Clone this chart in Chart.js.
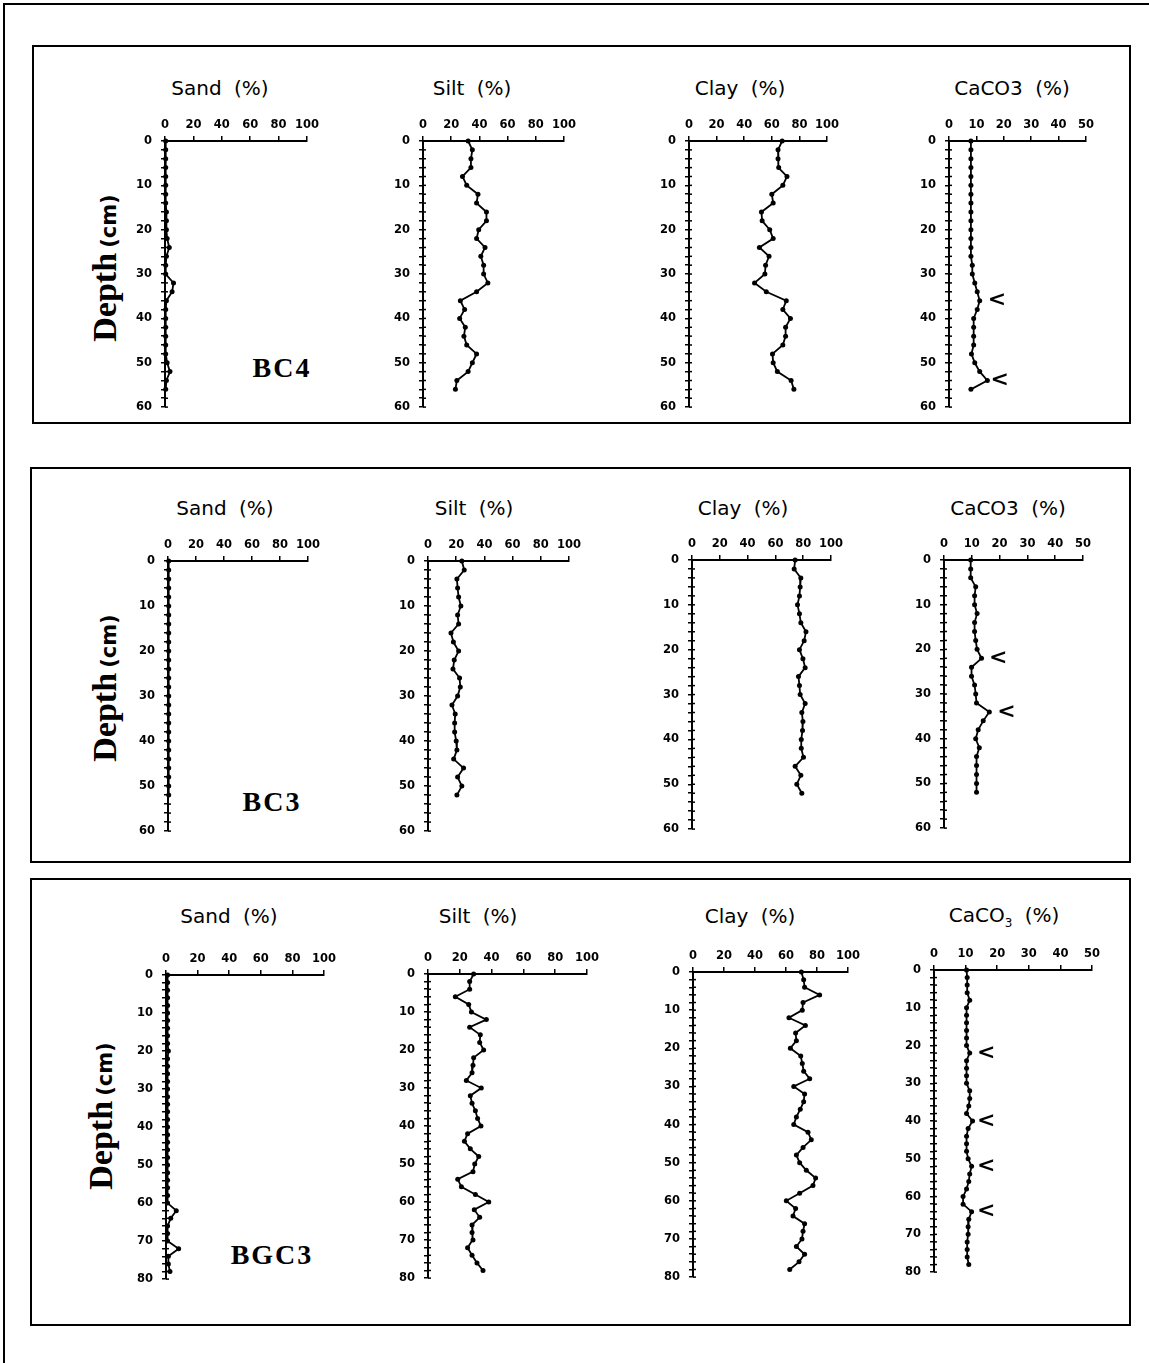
<!DOCTYPE html>
<html lang="en">
<head>
  <meta charset="UTF-8">
  <title>Sand, silt, clay and CaCO3 depth profiles</title>
  <script src="https://cdn.jsdelivr.net/npm/chart.js"></script>
  <style>
    body {
      margin: 0;
      width: 1149px;
      height: 1363px;
      position: relative;
      overflow: hidden;
      background: #fff;
      font-family: "DejaVu Sans", sans-serif;
      color: #000;
    }
    .frame { position: absolute; border: 2px solid #000; box-sizing: border-box; }
    .ttl { position: absolute; font-size: 20px; transform: translate(-50%, -50%); white-space: nowrap; word-spacing: 6px; }
    .depth { position: absolute; transform: translate(-50%, -50%) rotate(-90deg); white-space: nowrap; }
    .depth .d { font-family: "Liberation Serif", serif; font-weight: bold; font-size: 34px; }
    .depth .u { font-weight: bold; font-size: 21px; }
    .core { position: absolute; font-family: "Liberation Serif", serif; font-weight: bold; font-size: 28px; letter-spacing: 2px; transform: translate(-50%, -50%); }
    canvas { position: absolute; }
  </style>
</head>
<body>

<script>
  // depth of each sample (cm)
  var depthBC4 = [0, 2, 4, 6, 8, 10, 12, 14, 16, 18, 20, 22, 24, 26, 28, 30, 32, 34, 36, 38, 40, 42, 44, 46, 48, 50, 52, 54, 56];
  var depthBC3 = [0, 2, 4, 6, 8, 10, 12, 14, 16, 18, 20, 22, 24, 26, 28, 30, 32, 34, 36, 38, 40, 42, 44, 46, 48, 50, 52];
  var depthBGC3 = [0, 2, 4, 6, 8, 10, 12, 14, 16, 18, 20, 22, 24, 26, 28, 30, 32, 34, 36, 38, 40, 42, 44, 46, 48, 50, 52, 54, 56, 58, 60, 62, 64, 66, 68, 70, 72, 74, 76, 78];

  // core BC4
  var sandBC4 = [0.5, 0.5, 0.5, 0.5, 0.5, 0.5, 0.5, 0.5, 1, 1, 1, 1.5, 3, 1, 0.5, 0.5, 6, 5, 1, 0.5, 0.5, 0.5, 0.5, 0.5, 0.5, 1.5, 3.5, 1, 0.5];
  var siltBC4 = [32, 35, 34, 34, 28, 31, 39, 38, 45, 45, 39.5, 38, 44, 41, 43, 43, 46, 38, 26.5, 29.5, 26, 30, 29, 31, 38, 35, 32, 24, 23];
  var clayBC4 = [67.5, 64.5, 64.5, 65, 71, 68, 60, 61, 52.5, 53, 58.5, 61, 51, 58, 55.5, 55, 47.5, 56, 70.5, 68, 73.5, 70, 70, 68, 60.5, 61, 64, 74, 76];
  var caco3BC4 = [8, 8, 8, 8, 8, 8, 8, 8, 8, 8, 8, 8, 8, 8, 8.5, 8.5, 9.4, 10.3, 11.2, 10.3, 9, 9, 9, 9, 8.2, 9.4, 11.2, 14, 8];
  var arrowDepthBC4 = [36, 54];
  var arrowValueBC4 = [17.5, 18.5];

  // core BC3
  var sandBC3 = [0.5, 0.5, 0.5, 0.5, 0.5, 0.5, 0.5, 0.5, 0.5, 0.5, 0.5, 0.5, 0.5, 0.5, 0.5, 0.5, 0.5, 0.5, 0.5, 0.5, 0.5, 0.5, 0.5, 0.5, 0.5, 0.5, 0.5];
  var siltBC3 = [24, 25.7, 20.5, 21, 21.7, 23.3, 21, 21.7, 16.3, 18, 21.7, 18.6, 17.7, 22.4, 22.9, 21, 17, 19.3, 18.9, 18.9, 20, 20.5, 18.2, 25.2, 21, 24, 20.5];
  var clayBC3 = [74.2, 73.5, 78.3, 77.8, 77.3, 75.9, 77.3, 78.3, 82, 80.7, 77.3, 79.8, 81.4, 76.6, 77.3, 77.8, 81.4, 79, 79.8, 79.5, 78.6, 78.6, 80.2, 74.2, 78.3, 75.4, 79];
  var caco3BC3 = [9.6, 9.6, 9.6, 11.4, 11, 11, 11.9, 11, 11, 11.4, 11.9, 13.5, 9.9, 9.9, 11, 11.4, 11.7, 16.3, 14.1, 12.3, 11.4, 12.7, 11.7, 11.7, 11.7, 11.7, 11.7];
  var arrowDepthBC3 = [22, 34];
  var arrowValueBC3 = [19.5, 22.5];

  // core BGC3
  var sandBGC3 = [1, 1, 1, 1, 1, 1, 1, 1, 1, 1, 1.5, 1, 1, 1, 1, 1, 1, 1, 1, 1, 1, 1, 1, 1, 1, 1, 1, 1, 1, 1, 1, 6.5, 3, 1, 1, 1, 8, 1.5, 1.5, 2.5];
  var siltBGC3 = [28.7, 26.2, 26.2, 17.2, 25.6, 27.3, 36.7, 26.2, 32.9, 32.5, 35, 28.7, 28.3, 27.7, 24.1, 33.5, 26.6, 27.7, 29.8, 31.2, 33.3, 24.9, 22.9, 26.6, 31.9, 29.4, 28.3, 18.7, 21, 29.8, 38.2, 29.1, 32.5, 27.7, 27.7, 28.3, 24.9, 27.7, 30.8, 34.6];
  var clayBGC3 = [69.9, 71.4, 72, 81.7, 71, 70.5, 61.9, 72.5, 66.2, 66.7, 62.8, 69.5, 70.5, 71.4, 75.3, 65, 72, 71.4, 69.2, 66.7, 65, 74.2, 76.3, 71, 66.7, 68.8, 73.1, 79.1, 77.4, 68.8, 60.2, 66.2, 64.5, 72, 71, 70.3, 66.7, 72, 68.4, 62.4];
  var caco3BGC3 = [10.3, 10.5, 10.5, 10.5, 11.3, 10.3, 10.3, 10.3, 10.3, 10.3, 10.3, 11.3, 10.3, 10.3, 10.3, 10.3, 11.3, 11.3, 11, 10.3, 12.2, 10.8, 10.3, 10.3, 10.3, 10.8, 11.9, 11.3, 11, 10.3, 9.2, 9.2, 11.9, 11, 10.8, 10.8, 10.5, 10.5, 10.5, 11];
  var arrowDepthBGC3 = [22, 40, 52, 64];
  var arrowValueBGC3 = [16.5, 16.5, 16.5, 16.5];

  var AXW = 44;  // room for depth labels
  var AXH = 30;  // room for % labels

  function addDiv(cls, html, x, y, extra) {
    var d = document.createElement('div');
    d.className = cls;
    d.innerHTML = html;
    d.style.left = x + 'px';
    d.style.top = y + 'px';
    if (extra) Object.assign(d.style, extra);
    document.body.appendChild(d);
  }

  // cross ticks on the depth axis and the "<" markers
  var extras = {
    id: 'extras',
    afterDatasetsDraw: function(chart, args, opts) {
      var ctx = chart.ctx, xs = chart.scales.x, ys = chart.scales.y;
      ctx.save();
      ctx.strokeStyle = '#000';
      ctx.lineWidth = 1.5;
      ys.ticks.forEach(function(t) {
        var py = ys.getPixelForValue(t.value);
        ctx.beginPath();
        ctx.moveTo(xs.left, py);
        ctx.lineTo(xs.left + 3, py);
        ctx.stroke();
      });
      if (opts.depths) {
        ctx.fillStyle = '#000';
        ctx.font = 'bold 22px "DejaVu Sans"';
        ctx.textAlign = 'center';
        ctx.textBaseline = 'middle';
        opts.depths.forEach(function(d, i) {
          ctx.fillText('<', xs.getPixelForValue(opts.values[i]), ys.getPixelForValue(d));
        });
      }
      ctx.restore();
    }
  };

  function profile(ox, oy, w, h, xMax, yMax, depth, vals, arrows) {
    var c = document.createElement('canvas');
    c.width = AXW + w + 18;
    c.height = AXH + h + 10;
    c.style.left = (ox - AXW) + 'px';
    c.style.top = (oy - AXH) + 'px';
    document.body.appendChild(c);

    var pts = depth.map(function(d, i) { return { x: vals[i], y: d }; });
    var tickFont = { family: 'DejaVu Sans', size: 11.5, weight: 'bold' };

    new Chart(c.getContext('2d'), {
      type: 'scatter',
      data: {
        datasets: [{
          data: pts,
          showLine: true,
          borderColor: '#000',
          borderWidth: 1.8,
          pointRadius: 2.5,
          pointBackgroundColor: '#000',
          pointBorderWidth: 0,
          clip: false
        }]
      },
      options: {
        responsive: false,
        animation: false,
        layout: { padding: { left: 0, top: 0, right: 18, bottom: 10 } },
        plugins: {
          legend: { display: false },
          tooltip: { enabled: false },
          extras: arrows ? { depths: arrows[0], values: arrows[1] } : {}
        },
        scales: {
          x: {
            type: 'linear',
            position: 'top',
            min: 0,
            max: xMax,
            ticks: { stepSize: xMax / 5, color: '#000', font: tickFont, padding: 4, maxRotation: 0, autoSkip: false },
            grid: { drawOnChartArea: false, tickLength: 5, color: '#000', lineWidth: 1.5 },
            border: { color: '#000', width: 2 },
            afterFit: function(s) { s.height = AXH; }
          },
          y: {
            type: 'linear',
            reverse: true,
            min: 0,
            max: yMax,
            ticks: {
              stepSize: 2,
              autoSkip: false,
              color: '#000',
              font: tickFont,
              padding: 9,
              callback: function(v) { return v % 10 === 0 ? v : ''; }
            },
            grid: { drawOnChartArea: false, tickLength: 4, color: '#000', lineWidth: 1.5 },
            border: { color: '#000', width: 2 },
            afterFit: function(s) { s.width = AXW; }
          }
        }
      },
      plugins: [extras]
    });
  }

  // outer sheet and panel frames
  addDiv('frame', '', 3, 3, { width: '1146px', height: '1362px', borderRight: 'none', borderBottom: 'none' });
  addDiv('frame', '', 32, 45, { width: '1099px', height: '379px' });
  addDiv('frame', '', 30, 467, { width: '1101px', height: '396px' });
  addDiv('frame', '', 30, 878, { width: '1101px', height: '448px' });

  // titles
  addDiv('ttl', 'Sand (%)', 220, 88);
  addDiv('ttl', 'Silt (%)', 472, 88);
  addDiv('ttl', 'Clay (%)', 740, 88);
  addDiv('ttl', 'CaCO3 (%)', 1012, 88);
  addDiv('ttl', 'Sand (%)', 225, 508);
  addDiv('ttl', 'Silt (%)', 474, 508);
  addDiv('ttl', 'Clay (%)', 743, 508);
  addDiv('ttl', 'CaCO3 (%)', 1008, 508);
  addDiv('ttl', 'Sand (%)', 229, 916);
  addDiv('ttl', 'Silt (%)', 478, 916);
  addDiv('ttl', 'Clay (%)', 750, 916);
  addDiv('ttl', 'CaCO<sub style="font-size:12px">3</sub> (%)', 1004, 916);

  var depthLabel = '<span class="d">Depth</span> <span class="u">(cm)</span>';
  addDiv('depth', depthLabel, 105, 268);
  addDiv('depth', depthLabel, 105, 688);
  addDiv('depth', depthLabel, 101, 1116);

  addDiv('core', 'BC4', 282, 368);
  addDiv('core', 'BC3', 272, 802);
  addDiv('core', 'BGC3', 272, 1255);

  // BC4
  profile(165, 141, 142, 272, 100, 60, depthBC4, sandBC4);
  profile(423, 141, 141, 272, 100, 60, depthBC4, siltBC4);
  profile(689, 141, 138, 272, 100, 60, depthBC4, clayBC4);
  profile(949, 141, 137, 272, 50, 60, depthBC4, caco3BC4, [arrowDepthBC4, arrowValueBC4]);

  // BC3
  profile(168, 561, 140, 276, 100, 60, depthBC3, sandBC3);
  profile(428, 561, 141, 276, 100, 60, depthBC3, siltBC3);
  profile(692, 560, 139, 275, 100, 60, depthBC3, clayBC3);
  profile(944, 560, 139, 274, 50, 60, depthBC3, caco3BC3, [arrowDepthBC3, arrowValueBC3]);

  // BGC3
  profile(166, 975, 158, 310, 100, 80, depthBGC3, sandBGC3);
  profile(428, 974, 159, 310, 100, 80, depthBGC3, siltBGC3);
  profile(693, 972, 155, 311, 100, 80, depthBGC3, clayBGC3);
  profile(934, 970, 158, 308, 50, 80, depthBGC3, caco3BGC3, [arrowDepthBGC3, arrowValueBGC3]);
</script>
</body>
</html>
